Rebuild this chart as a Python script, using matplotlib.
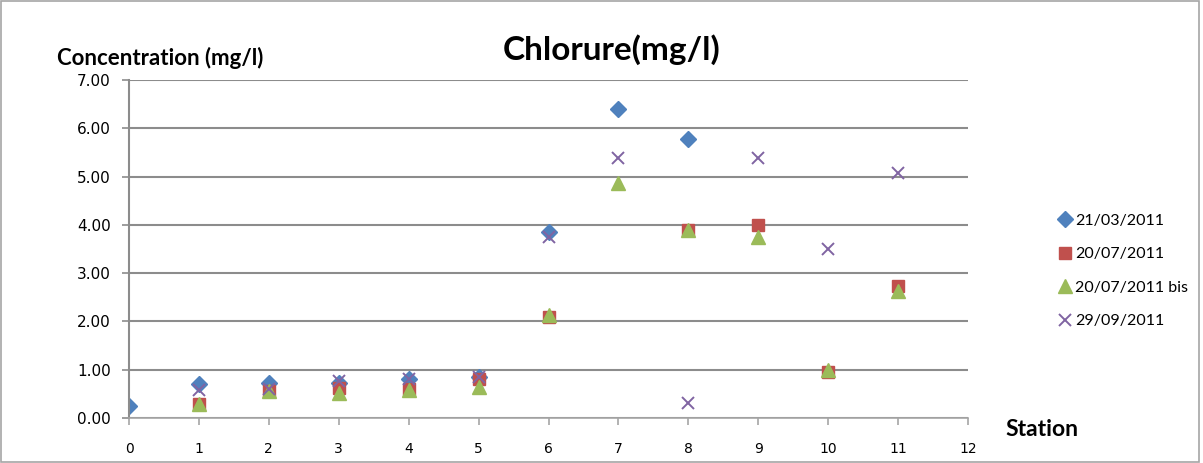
import matplotlib
matplotlib.use('Agg')
import matplotlib.pyplot as plt
import numpy as np

# tick labels in DejaVu (Verdana-like), other texts in Lato
plt.rcParams['font.family'] = ['DejaVu Sans']
lato = ['Lato', 'DejaVu Sans']

# data
st_a = [0, 1, 2, 3, 4, 5, 6, 7, 8]
v_a = [0.25, 0.70, 0.72, 0.72, 0.80, 0.85, 3.86, 6.40, 5.77]   # 21/03/2011
st_b = [1, 2, 3, 4, 5, 6, 8, 9, 10, 11]
v_b = [0.30, 0.56, 0.62, 0.60, 0.81, 2.10, 3.89, 4.00, 0.96, 2.74]   # 20/07/2011
st_c = [1, 2, 3, 4, 5, 6, 7, 8, 9, 10, 11]
v_c = [0.28, 0.56, 0.52, 0.58, 0.64, 2.13, 4.86, 3.89, 3.74, 1.00, 2.64]   # 20/07/2011 bis
st_d = [1, 2, 3, 4, 5, 6, 7, 8, 9, 10, 11]
v_d = [0.58, 0.60, 0.76, 0.81, 0.84, 3.75, 5.38, 0.31, 5.39, 3.49, 5.07]   # 29/09/2011
labels = ['21/03/2011', '20/07/2011', '20/07/2011 bis', '29/09/2011']
yticks = [0, 1, 2, 3, 4, 5, 6, 7]

fig = plt.figure(figsize=(12.03, 4.63), dpi=100)
ax = fig.add_axes([129/1203, 1-418/463, (968-129)/1203, (418-80)/463])

# figure border
fig.patches.append(plt.Rectangle((0.001, 0.002), 0.996, 0.996, transform=fig.transFigure,
                                 fill=False, edgecolor='#a6a6a6', linewidth=1.2))

ax.plot(st_a, v_a, 'D', color='#4F81BD', markersize=8.5, label=labels[0], linestyle='none')
ax.plot(st_b, v_b, 's', color='#C0504D', markersize=9, label=labels[1], linestyle='none')
ax.plot(st_c, v_c, '^', color='#9BBB59', markersize=10, label=labels[2], linestyle='none')
ax.plot(st_d, v_d, 'x', color='#8064A2', markersize=9, markeredgewidth=1.4, label=labels[3], linestyle='none')

ax.set_xlim(0, 12)
ax.set_ylim(0, 7)
ax.set_xticks(range(0, 13))
ax.set_yticks(yticks)
ax.set_yticklabels(['%.2f' % v for v in yticks])
ax.yaxis.grid(True, color='#8c8c8c', linewidth=1.5)
ax.set_axisbelow(True)
for s in ['top', 'right']:
    ax.spines[s].set_visible(False)
ax.spines['left'].set_color('#8c8c8c')
ax.spines['left'].set_linewidth(1.5)
ax.spines['bottom'].set_color('#a6a6a6')
ax.spines['bottom'].set_linewidth(1.2)
ax.tick_params(axis='x', length=5, width=1.2, color='#a6a6a6', labelsize=10, pad=12)
ax.tick_params(axis='y', length=5, width=1.2, color='#8c8c8c', labelsize=11, pad=8)

fig.text(612/1203, 1-50/463, 'Chlorure(mg/l)', ha='center', va='center', fontsize=24,
         fontweight='bold', family=lato)
fig.text(57/1203, 1-58/463, 'Concentration (mg/l)', ha='left', va='center', fontsize=16,
         fontweight='bold', family=lato)
fig.text(1005/1203, 1-430/463, 'Station', ha='left', va='center', fontsize=16.5,
         fontweight='bold', family=lato)

fig.legend(loc='center left', bbox_to_anchor=(1041/1203, 1-271/463), frameon=False,
           prop={'family': lato, 'size': 11.5}, labelspacing=1.2, handletextpad=0.05,
           handlelength=1.2, numpoints=1)

plt.savefig('out.png', dpi=100)
